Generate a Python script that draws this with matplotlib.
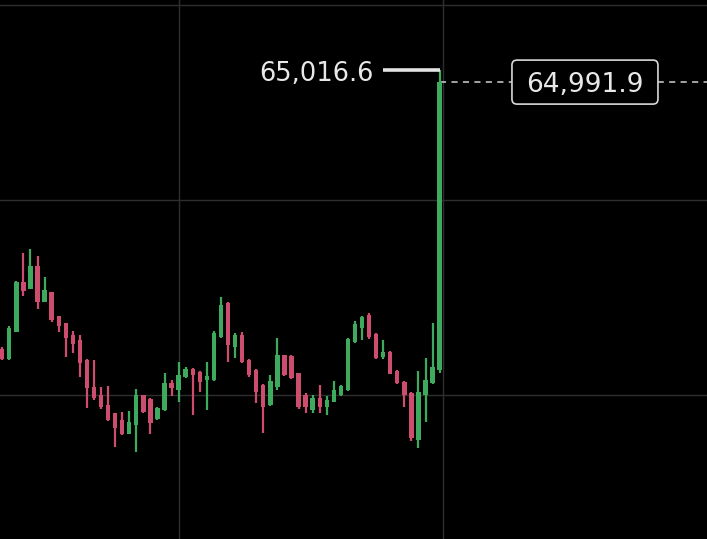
import matplotlib
matplotlib.use("Agg")
import matplotlib.pyplot as plt
from matplotlib.patches import FancyBboxPatch
import numpy as np

# candle data (oldest first)
opens = [64445, 64423, 64480, 64582, 64568, 64614, 64541, 64561, 64512, 64497,
         64473, 64463, 64422, 64366, 64349, 64330, 64313, 64299, 64271, 64289,
         64349, 64342, 64301, 64319, 64375, 64361, 64387, 64404, 64397, 64381,
         64381, 64469, 64539, 64449, 64473, 64422, 64402, 64371, 64330, 64367,
         64432, 64430, 64395, 64349, 64319, 64344, 64326, 64336, 64350, 64361,
         64459, 64487, 64514, 64476, 64428, 64439, 64400, 64377, 64354, 64258,
         64350, 64374, 64402]
highs = [64448, 64492, 64583, 64642, 64649, 64635, 64592, 64562, 64513, 64498,
         64481, 64473, 64423, 64422, 64366, 64368, 64314, 64315, 64318, 64362,
         64351, 64344, 64326, 64395, 64381, 64418, 64408, 64406, 64399, 64418,
         64482, 64551, 64541, 64477, 64480, 64423, 64403, 64372, 64392, 64467,
         64433, 64432, 64396, 64354, 64350, 64371, 64347, 64378, 64370, 64467,
         64501, 64513, 64518, 64478, 64462, 64440, 64401, 64379, 64356, 64400,
         64426, 64497, 65016.6]
lows = [64421, 64421, 64479, 64554, 64567, 64526, 64540, 64500, 64479, 64428,
        64436, 64387, 64323, 64339, 64321, 64296, 64244, 64268, 64270, 64233,
        64314, 64270, 64299, 64318, 64347, 64336, 64385, 64309, 64356, 64319,
        64379, 64467, 64418, 64426, 64416, 64387, 64334, 64272, 64328, 64361,
        64389, 64382, 64321, 64313, 64313, 64313, 64309, 64335, 64348, 64359,
        64457, 64463, 64464, 64424, 64423, 64393, 64372, 64326, 64256, 64241,
        64295, 64372, 64395]
closes = [64423, 64487, 64582, 64564, 64614, 64540, 64565, 64504, 64492, 64467,
          64455, 64416, 64364, 64343, 64325, 64299, 64282, 64270, 64294, 64350,
          64316, 64293, 64323, 64375, 64364, 64391, 64404, 64391, 64377, 64389,
          64478, 64535, 64452, 64473, 64418, 64391, 64356, 64326, 64378, 64432,
          64391, 64384, 64326, 64325, 64344, 64326, 64340, 64361, 64368, 64465,
          64495, 64511, 64469, 64426, 64439, 64394, 64374, 64350, 64262, 64356,
          64381, 64408, 64991.9]

high_label = 65016.6
last_price = 64991.9
grid_prices = [64350, 64750, 65150]
grid_times = [25.06, 62.48]

up_col = '#3daa5e'
down_col = '#cc4d6d'
txt_col = '#e8e8e8'

fig = plt.figure(figsize=(7.07, 5.39), dpi=100, facecolor='black')
ax = fig.add_axes([0, 0, 1, 1])
ax.set_facecolor('black')
ax.set_xlim(-0.32, 99.9)
ax.set_ylim(64054.6, 65160.3)
ax.axis('off')

for p in grid_prices:
    ax.axhline(p, color='#2e2e2e', lw=1, zorder=0)
for t in grid_times:
    ax.axvline(t, color='#2e2e2e', lw=1, zorder=0)

o = np.array(opens)
h = np.array(highs)
l = np.array(lows)
c = np.array(closes)
idx = np.arange(len(o))
cols = [up_col if cc >= oo else down_col for oo, cc in zip(o, c)]

ax.vlines(idx, l, h, colors=cols, lw=1.6, zorder=2)
ax.bar(idx, np.abs(c - o), bottom=np.minimum(o, c), width=0.62, color=cols,
       linewidth=0, zorder=3)

# high marker
last = idx[-1]
ax.hlines(high_label, last - 8, last, color='#e4e4e4', lw=2.6, zorder=4)
ax.annotate('65,016.6', (last - 9.4, high_label), xytext=(0, -3),
            textcoords='offset points', color=txt_col, fontsize=18.5,
            family='DejaVu Sans', ha='right', va='center')

# last price line + label
ax.hlines(last_price, last, 110, color='#d0d0d0', lw=1.1,
          linestyles=(0, (4, 3.5)), zorder=1)
lx = 82.6
ax.annotate('64,991.9', (lx, last_price), xytext=(0, -2),
            textcoords='offset points', color=txt_col, fontsize=19,
            family='DejaVu Sans', ha='center', va='center', zorder=6)
cx, cy = ax.transData.transform((lx, last_price))
bw, bh = 146, 44
box = FancyBboxPatch((cx - bw / 2, cy - bh / 2), bw, bh,
                     boxstyle='round,pad=0,rounding_size=5',
                     facecolor='black', edgecolor='#d8d8d8', lw=1.2,
                     transform=None, zorder=5)
ax.add_artist(box)

fig.savefig('out.png', dpi=100, facecolor='black')
